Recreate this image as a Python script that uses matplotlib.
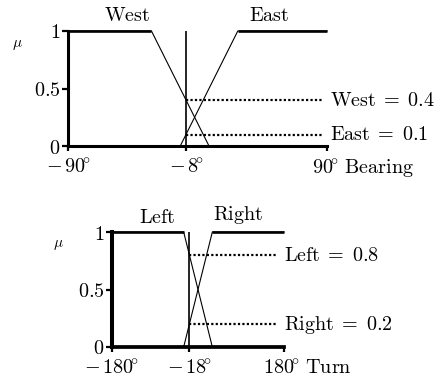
import matplotlib
matplotlib.use("Agg")
import matplotlib.pyplot as plt

plt.rcParams['mathtext.fontset'] = 'cm'
plt.rcParams['font.size'] = 14

# bearing (input) memberships
bearing_ticks = [-90, -8, 90]
bearing_input = -8
west_x = [-90, -32, 8]
west_mu = [1, 1, 0]
east_x = [-12, 28, 90]
east_mu = [0, 1, 1]
west_value = 0.4
east_value = 0.1

# turn (output) memberships
turn_ticks = [-180, -18, 180]
turn_output = -18
left_x = [-180, -30, 30]
left_mu = [1, 1, 0]
right_x = [-30, 30, 180]
right_mu = [0, 1, 1]
left_value = 0.8
right_value = 0.2

mu_ticks = [0, 0.5, 1]
mu_labels = [r'$0$', r'$0.5$', r'$1$']

FS = 14.5


def deg(v, extra=''):
    sign = r'-\,' if v < 0 else ''
    return r'$%s%d\!^{\circ}%s$' % (sign, abs(v), extra)


def membership(ax, xs, ys, name, name_x, name_y, plateau):
    # sloped part thin, the flat top drawn heavy
    ax.plot(xs, ys, color='k', lw=0.8, clip_on=False)
    ax.plot(xs[plateau], ys[plateau], color='k', lw=1.9,
            solid_capstyle='butt', clip_on=False)
    ax.text(name_x, name_y, r'$\mathrm{%s}$' % name, ha='center',
            va='baseline', fontsize=FS)


def panel(ax, ticks, x0, lw_left, lw_bottom):
    ax.set_xlim(ticks[0], ticks[-1])
    ax.set_ylim(0, 1)
    for s in ('top', 'right'):
        ax.spines[s].set_visible(False)
    ax.spines['left'].set_linewidth(lw_left)
    ax.spines['bottom'].set_linewidth(lw_bottom)
    ax.set_yticks(mu_ticks)
    ax.set_yticklabels(mu_labels, fontsize=FS)
    ax.set_xticks(ticks)
    ax.set_xticklabels([deg(ticks[0]), deg(ticks[1]), ''], fontsize=FS)
    ax.tick_params(axis='y', direction='out', length=4.3, width=1.6, pad=1)
    ax.tick_params(axis='x', direction='out', length=3.6, width=1.6, pad=4.5)
    ax.vlines(x0, 0, 1, color='k', lw=1.2, clip_on=False)


def readout(ax, x0, x1, value, text, xt):
    ax.hlines(value, x0, x1, color='k', lw=1.6, linestyles=(0, (1.0, 1.0)),
              clip_on=False)
    ax.annotate(r'$\mathrm{%s}\;=\;%s$' % (text, value), xy=(xt, value),
                xytext=(2, -4), textcoords='offset points', ha='left',
                va='baseline', fontsize=FS, annotation_clip=False)


fig = plt.figure(figsize=(4.41, 3.76), dpi=100)

# bearing panel
ax1 = fig.add_axes([68 / 441, 1 - 146 / 376, 259 / 441, 115 / 376])
panel(ax1, bearing_ticks, bearing_input, 2.2, 2.2)
membership(ax1, west_x, west_mu, 'West', -49, 1.09, slice(0, 2))
membership(ax1, east_x, east_mu, 'East', 50, 1.09, slice(1, 3))
readout(ax1, bearing_input, 87, west_value, 'West', 90)
readout(ax1, bearing_input, 87, east_value, 'East', 90)
ax1.annotate(deg(bearing_ticks[-1], r'\ \mathrm{Bearing}'),
             xy=(bearing_ticks[-1], 0), xytext=(-10.5, -8.1),
             textcoords='offset points', ha='left', va='top',
             fontsize=FS, annotation_clip=False)
fig.text(17 / 441, 1 - 45 / 376, r'$\mu$', fontsize=11, ha='center', va='center')

# turn panel
ax2 = fig.add_axes([112 / 441, 1 - 347 / 376, 172 / 441, 115 / 376])
panel(ax2, turn_ticks, turn_output, 2.9, 2.7)
membership(ax2, left_x, left_mu, 'Left', -86, 1.08, slice(0, 2))
membership(ax2, right_x, right_mu, 'Right', 84, 1.10, slice(1, 3))
readout(ax2, turn_output, 165, left_value, 'Left', 174)
readout(ax2, turn_output, 165, right_value, 'Right', 174)
ax2.annotate(deg(turn_ticks[-1], r'\ \mathrm{Turn}'),
             xy=(turn_ticks[-1], 0), xytext=(-15, -8.1),
             textcoords='offset points', ha='left', va='top',
             fontsize=FS, annotation_clip=False)
fig.text(58 / 441, 1 - 245 / 376, r'$\mu$', fontsize=11, ha='center', va='center')

fig.savefig('out.png', dpi=100)
